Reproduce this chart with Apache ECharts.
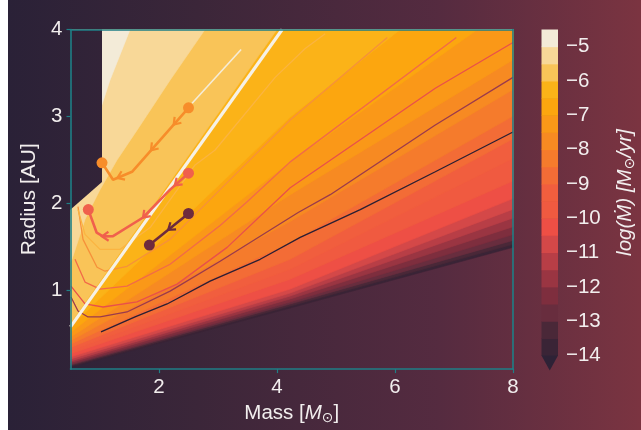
<!DOCTYPE html>
<html><head><meta charset="utf-8">
<script src="https://cdn.jsdelivr.net/npm/echarts@6/dist/echarts.min.js"></script>
<style>html,body{margin:0;padding:0;background:#fff}#c{width:641px;height:430px}</style>
</head><body><div id="c"></div>
<script>
// ---------- axes ----------
const X_MIN = 0.5, X_MAX = 8, Y_MIN = 0.1, Y_MAX = 4;
const X_TICKS = [2, 4, 6, 8];
const Y_TICKS = [1, 2, 3, 4];
const CB_TICKS = [-14, -13, -12, -11, -10, -9, -8, -7, -6, -5];
const CB_MAX = -4.5;

// ---------- contour fill levels (lower edge of each band) ----------
const LEVELS = [-14, -13.5, -13, -12.5, -12, -11.5, -11, -10.5, -10, -9.5, -9, -8.5, -8, -7.5, -7, -6.5, -6, -5.5, -5];
const BAND_COLORS = ['#3a2436', '#4a2838', '#682d3e', '#7e2e3e', '#9a3542', '#b83e46', '#d44848', '#ee4f45',
  '#f05a40', '#f15e3e', '#f36c36', '#f57b2c', '#f78a22', '#fa9818', '#fca60f', '#fbb318', '#f9c458', '#f8d898', '#f3ebd8'];

// boundary of each level, [mass, radius] (value >= level above/left of it)
const B_N140 = [[0.407, 0.106], [4.224, 0.802], [8.12, 1.520]];
const B_N135 = [[0.407, 0.117], [4.224, 0.825], [8.12, 1.555]];
const B_N130 = [[0.407, 0.129], [4.224, 0.848], [8.12, 1.601]];
const B_N125 = [[0.407, 0.140], [4.224, 0.871], [8.12, 1.670]];
const B_N120 = [[0.407, 0.157], [4.224, 0.905], [8.12, 1.761]];
const B_N115 = [[0.407, 0.174], [4.224, 0.939], [8.12, 1.864]];
const B_N110 = [[0.407, 0.197], [4.224, 0.973], [8.12, 1.966]];
const B_N105 = [[0.407, 0.220], [4.224, 1.019], [8.12, 2.092]];
const B_N100 = [[0.407, 0.254], [4.224, 1.133], [8.12, 2.297]];
const B_N095 = [[0.407, 0.288], [4.224, 1.247], [8.12, 2.560]];
const B_N090 = [[0.407, 0.323], [4.224, 1.361], [8.12, 2.788]];
const B_N085 = [[0.407, 0.357], [4.224, 1.555], [8.12, 3.051]];
const B_N080 = [[0.407, 0.391], [4.224, 1.795], [8.12, 3.359]];
const B_N075 = [[0.407, 0.425], [4.224, 2.103], [8.12, 3.702]];
const B_N070 = [[0.407, 0.471], [4.224, 2.480], [7.40, 4.0]];
const B_N065 = [[0.407, 0.528], [4.224, 2.994], [6.09, 4.0]];
const B_N060 = [[0.40, 0.53], [4.0, 4.0]];
const B_N055 = [[0.41, 1.245], [0.525, 1.36], [0.746, 1.818], [1.0, 2.16], [1.289, 2.502], [1.628, 2.844], [2.19, 3.42], [2.78, 4.0]];
const B_N050 = [[0.95, 3.0], [1.03, 3.13], [1.17, 3.42], [1.51, 4.0]];

// region without data (top-left)
const DOMAIN_CUT = [[0.4, 1.873], [1.034, 2.25], [1.034, 4.3], [0.4, 4.3]];

// ---------- contour lines ----------
const LINE_N11 = [[1.017, 0.528], [1.594, 0.699], [2.137, 0.848], [2.866, 1.110], [3.715, 1.361], [4.393, 1.613], [5.411, 1.932], [6.683, 2.366], [8.0, 2.823]];
const LINE_N10 = [[0.508, 0.928], [0.627, 0.768], [0.797, 0.699], [1.0, 0.699], [1.458, 0.756], [2.188, 0.996], [3.036, 1.338], [4.359, 1.898], [4.902, 2.103], [6.683, 2.903], [8.0, 3.450]];
const LINE_N09 = [[0.508, 1.053], [0.746, 0.848], [1.051, 0.813], [1.628, 0.871], [2.307, 1.076], [3.155, 1.498], [4.224, 2.183], [6.683, 3.325], [8.0, 3.85]];
const LINE_N08 = [[0.576, 1.361], [0.746, 1.099], [1.0, 1.019], [1.458, 1.053], [2.188, 1.304], [3.036, 1.749], [3.494, 2.023], [4.224, 2.480], [7.04, 3.907]];
const LINE_N07 = [[0.627, 1.966], [0.712, 1.590], [0.950, 1.270], [1.085, 1.224], [1.458, 1.281], [2.188, 1.590], [3.036, 2.161], [4.224, 2.960], [5.869, 3.907]];
const LINE_N06 = [[0.627, 1.932], [0.746, 1.647], [1.0, 1.475], [1.34, 1.475], [1.849, 1.726], [2.612, 2.445], [2.951, 2.616], [3.969, 3.45], [4.478, 3.781], [4.817, 3.952]];
const LINE_N05 = [[2.561, 3.154], [3.392, 3.770]];
const LINE_COLORS = ['#2b1f33', '#9b3a4c', '#e9504a', '#f26a48', '#f6913a', '#fbb441', '#f5ecd8'];

// white line
const WHITE_LINE = [[0.5, 0.585], [4.088, 4.0]];

// ---------- tracks ----------
const TRACK_A = [[2.5, 3.1], [1.543, 2.366], [1.221, 2.275], [1.034, 2.469]];
const TRACK_B = [[2.5, 2.35], [2.188, 2.161], [1.73, 1.841], [1.221, 1.627], [1.051, 1.624], [0.944, 1.666], [0.802, 1.932]];
const TRACK_C = [[2.5, 1.887], [1.837, 1.525]];
const ARROWS_A = [[2.302, 2.922], [1.933, 2.617], [1.34, 2.309]];
const ARROWS_B = [[2.324, 2.218], [1.764, 1.864], [1.085, 1.624]];
const ARROWS_C = [[2.188, 1.727]];
const TRACK_COLORS = ['#f78d2a', '#f0604c', '#6e2b3d'];

// ---------- styling ----------
const TEAL = '#1f7f86';
const TXT = '#f2eeee';
const FONT = 'Liberation Sans';
const BG_STOPS = [
  {offset: 0, color: '#2a2137'}, {offset: 0.30, color: '#3b2639'},
  {offset: 0.68, color: '#552b40'}, {offset: 1, color: '#7b3441'}];

const BOUNDS = [B_N140, B_N135, B_N130, B_N125, B_N120, B_N115, B_N110, B_N105, B_N100, B_N095,
  B_N090, B_N085, B_N080, B_N075, B_N070, B_N065, B_N060, B_N055, B_N050];
const LINES = [LINE_N11, LINE_N10, LINE_N09, LINE_N08, LINE_N07, LINE_N06, LINE_N05];
const TRACKS = [TRACK_A, TRACK_B, TRACK_C];
const ARROWS = [ARROWS_A, ARROWS_B, ARROWS_C];

function regionPolygon(b) {
  const first = b[0], last = b[b.length - 1];
  return [[X_MIN - 1, first[1]]].concat(b, [[X_MAX + 1, last[1]], [X_MAX + 1, Y_MAX + 1], [X_MIN - 1, Y_MAX + 1]]);
}

const chart = echarts.init(document.getElementById('c'), null, {renderer: 'canvas'});

const series = [];
// filled contours
series.push({
  type: 'custom', xAxisIndex: 0, yAxisIndex: 0, clip: true, z: 2, silent: true,
  data: BOUNDS.map((b, i) => [i]),
  encode: {x: -1, y: -1},
  renderItem(params, api) {
    const i = api.value(0);
    const pts = regionPolygon(BOUNDS[i]).map(p => api.coord(p));
    return {type: 'polygon', shape: {points: pts}, style: {fill: BAND_COLORS[i], stroke: BAND_COLORS[i], lineWidth: 0.6}};
  }
});
// no-data region
series.push({
  type: 'custom', xAxisIndex: 0, yAxisIndex: 0, clip: true, z: 3, silent: true,
  data: [[0]], encode: {x: -1, y: -1},
  renderItem(params, api) {
    return {type: 'polygon', shape: {points: DOMAIN_CUT.map(p => api.coord(p))},
      style: {fill: new echarts.graphic.LinearGradient(8, 0, 641, 0, BG_STOPS, true)}};
  }
});
// contour lines
LINES.forEach((l, i) => series.push({
  type: 'line', data: l, showSymbol: false, symbol: 'none', z: 4, silent: true, animation: false,
  lineStyle: {color: LINE_COLORS[i], width: i === 6 ? 1.6 : 1.3}
}));
series.push({type: 'line', data: WHITE_LINE, symbol: 'none', z: 5, silent: true,
  lineStyle: {color: '#f6f1e6', width: 3.2}});
// tracks
TRACKS.forEach((t, i) => {
  series.push({type: 'line', data: t, symbol: 'none', z: 6, silent: true, lineStyle: {color: TRACK_COLORS[i], width: 2.6}});
  series.push({type: 'scatter', data: [t[0], t[t.length - 1]], symbolSize: 11, z: 7, silent: true,
    itemStyle: {color: TRACK_COLORS[i], opacity: 1}});
});
// arrows
series.push({
  type: 'custom', xAxisIndex: 0, yAxisIndex: 0, z: 7, silent: true,
  data: ARROWS.flatMap((a, t) => a.map(p => [p[0], p[1], t])),
  renderItem(params, api) {
    const t = api.value(2);
    const p = api.coord([api.value(0), api.value(1)]);
    const tr = TRACKS[t].map(q => api.coord(q));
    let best = null, bd = Infinity;
    for (let k = 0; k < tr.length - 1; k++) {
      const a = tr[k], b = tr[k + 1];
      const dx = b[0] - a[0], dy = b[1] - a[1];
      const L2 = dx * dx + dy * dy;
      let u = ((p[0] - a[0]) * dx + (p[1] - a[1]) * dy) / L2;
      u = Math.max(0, Math.min(1, u));
      const cx = a[0] + u * dx, cy = a[1] + u * dy;
      const d = (p[0] - cx) ** 2 + (p[1] - cy) ** 2;
      if (d < bd) { bd = d; best = [dx, dy, cx, cy]; }
    }
    const len = Math.hypot(best[0], best[1]);
    const ux = best[0] / len, uy = best[1] / len;
    const nx = -uy, ny = ux;
    const tip = [best[2] + ux * 3, best[3] + uy * 3];
    const back = 6.5, half = 4.5;
    return {type: 'polyline', shape: {points: [
      [tip[0] - ux * back + nx * half, tip[1] - uy * back + ny * half], tip,
      [tip[0] - ux * back - nx * half, tip[1] - uy * back - ny * half]]},
      style: {stroke: TRACK_COLORS[t], lineWidth: 2.2, fill: null, lineJoin: 'miter'}};
  }
});
// colorbar
series.push({
  type: 'custom', xAxisIndex: 2, yAxisIndex: 2, clip: false, z: 2, silent: true,
  data: LEVELS.map((l, i) => [i]).concat([[-1]]), encode: {x: -1, y: -1},
  renderItem(params, api) {
    const i = api.value(0);
    if (i < 0) {
      const a = api.coord([0, LEVELS[0]]), b = api.coord([1, LEVELS[0]]);
      return {type: 'polygon', shape: {points: [a, b, [(a[0] + b[0]) / 2, a[1] + 15]]}, style: {fill: '#2e2236'}};
    }
    const lo = LEVELS[i], hi = i + 1 < LEVELS.length ? LEVELS[i + 1] : CB_MAX;
    const a = api.coord([0, hi]), b = api.coord([1, lo]);
    return {type: 'rect', shape: {x: a[0], y: a[1], width: b[0] - a[0], height: b[1] - a[1] + 0.5},
      style: {fill: BAND_COLORS[i]}};
  }
});

const FS = 20.5;
const axisLineStyle = {show: true, lineStyle: {color: TEAL, width: 1.6}};
const richName = {
  a: {color: TXT, fontSize: FS, fontFamily: FONT},
  i: {color: TXT, fontSize: FS, fontFamily: FONT, fontStyle: 'italic'},
  s: {color: TXT, fontSize: 14, fontFamily: 'DejaVu Sans', verticalAlign: 'bottom', padding: [9, 0, 0, 0]}
};
const option = {
  backgroundColor: '#ffffff',
  animation: false,
  graphic: [{type: 'rect', z: -10, silent: true, shape: {x: 8, y: 0, width: 633, height: 430},
    style: {fill: new echarts.graphic.LinearGradient(0, 0, 1, 0, BG_STOPS)}}],
  grid: [
    {left: 70.5, top: 29.5, width: 442.5, height: 341},
    {left: 541.5, top: 29.5, width: 16.5, height: 326}
  ],
  xAxis: [
    {type: 'value', gridIndex: 0, min: X_MIN, max: X_MAX, position: 'bottom', z: 10,
      axisLine: axisLineStyle, splitLine: {show: false},
      axisTick: {show: true, customValues: X_TICKS, length: 4, lineStyle: {color: TEAL, width: 1.2}},
      axisLabel: {customValues: X_TICKS, color: TXT, fontSize: FS, fontFamily: FONT, margin: 8},
      name: '{a|Mass [}{i|M}{s|⊙}{a|]}', nameLocation: 'middle', nameGap: 30,
      nameTextStyle: {rich: richName}},
    {type: 'value', gridIndex: 0, min: X_MIN, max: X_MAX, position: 'top', z: 10,
      axisLine: axisLineStyle, axisTick: {show: false}, axisLabel: {show: false}, splitLine: {show: false}},
    {type: 'value', gridIndex: 1, min: 0, max: 1, show: false}
  ],
  yAxis: [
    {type: 'value', gridIndex: 0, min: Y_MIN, max: Y_MAX, position: 'left', z: 10,
      axisLine: axisLineStyle, splitLine: {show: false},
      axisTick: {show: true, customValues: Y_TICKS, length: 4, lineStyle: {color: TEAL, width: 1.2}},
      axisLabel: {customValues: Y_TICKS, color: TXT, fontSize: FS, fontFamily: FONT, margin: 8},
      name: 'Radius [AU]', nameLocation: 'middle', nameGap: 25, nameRotate: 90,
      nameTextStyle: {color: TXT, fontSize: 21, fontFamily: FONT}},
    {type: 'value', gridIndex: 0, min: Y_MIN, max: Y_MAX, position: 'right', z: 10,
      axisLine: axisLineStyle, axisTick: {show: false}, axisLabel: {show: false}, splitLine: {show: false}},
    {type: 'value', gridIndex: 1, min: LEVELS[0], max: CB_MAX, position: 'right',
      axisLine: {show: false}, splitLine: {show: false},
      axisTick: {show: false},
      axisLabel: {customValues: CB_TICKS, color: TXT, fontSize: FS, fontFamily: FONT, margin: 8,
        formatter: v => '\u2212' + Math.abs(v)},
      name: '{i|log(Ṁ) [M}{s|⊙}{i|/yr]}', nameLocation: 'middle', nameRotate: 90, nameGap: 56,
      nameTextStyle: {rich: richName}}
  ],
  series
};
chart.setOption(option);
</script></body></html>
